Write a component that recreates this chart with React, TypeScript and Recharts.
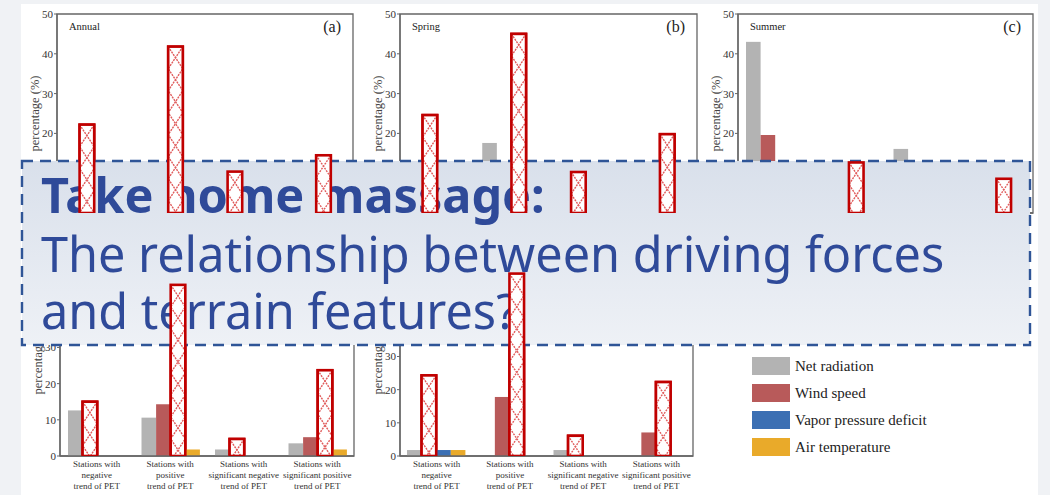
import React from 'react';
import { BarChart, Bar, XAxis, YAxis, ReferenceArea } from 'recharts';

// categories (station groups by PET trend)
const GROUPS = ['neg', 'pos', 'sigNeg', 'sigPos'];
const GROUP_LABELS = [
  ['Stations with', 'negative', 'trend of PET'],
  ['Stations with', 'positive', 'trend of PET'],
  ['Stations with', 'significant negative', 'trend of PET'],
  ['Stations with', 'significant positive', 'trend of PET'],
];

const SERIES = [
  { key: 'rn', name: 'Net radiation', color: '#b3b3b3' },
  { key: 'ws', name: 'Wind speed', color: '#b85a5a' },
  { key: 'vpd', name: 'Vapor pressure deficit', color: '#3b6fb3' },
  { key: 'ta', name: 'Air temperature', color: '#e9aa2a' },
];

// percentage of stations dominated by each driver
const annualRn = [8, 9, 1.5, 3];
const annualWs = [22.2, 6, 10.4, 3];
const annualVpd = [0, 41.8, 0, 14.5];
const annualTa = [0, 1.5, 0, 1];

const springRn = [3, 17.6, 1, 4];
const springWs = [24.6, 8, 10.3, 4];
const springVpd = [2, 45, 0, 19.8];
const springTa = [1.5, 2, 0, 1];

const summerRn = [43, 6, 16.1, 2];
const summerWs = [19.6, 3, 5, 1];
const summerVpd = [4, 12.7, 1, 8.6];
const summerTa = [2, 1, 0.5, 0.5];

const autumnRn = [12.6, 10.6, 1.8, 3.5];
const autumnWs = [15, 14.3, 4.7, 5.2];
const autumnVpd = [0, 47.3, 0, 23.7];
const autumnTa = [0, 1.8, 0, 1.8];

const winterRn = [1.8, 0, 1.8, 0];
const winterWs = [24.3, 17.8, 6.1, 7.1];
const winterVpd = [1.8, 55, 0, 22.3];
const winterTa = [1.8, 0, 0, 0];

const TICKS_50 = [0, 10, 20, 30, 40, 50];
const TICKS_60 = [0, 10, 20, 30, 40, 50, 60];

// bars boxed in red on the slide
const MARKED_ALL = ['neg:ws', 'pos:vpd', 'sigNeg:ws', 'sigPos:vpd'];
const MARKED_SUMMER = ['pos:vpd', 'sigPos:vpd'];

const LEGEND_ITEMS = SERIES.map((s) => s.name);

const SERIF = '"Liberation Serif", "Times New Roman", serif';
const AXIS = '#666';
const Y_AXIS_W = 57;
const PAD_TOP = 6;
const PAD_RIGHT = 6;
const X_AXIS_H = 44;
const PLOT_H = 199;

type Panel = {
  id: string;
  title?: string;
  tag?: string;
  values: number[][];
  marked: string[];
  yMax: number;
  ticks: number[];
  showGroups: boolean;
  plotLeft: number;
  plotTop: number;
  plotW: number;
};

const PANELS: Panel[] = [
  { id: 'a', title: 'Annual', tag: '(a)', values: [annualRn, annualWs, annualVpd, annualTa], marked: MARKED_ALL, yMax: 50, ticks: TICKS_50, showGroups: false, plotLeft: 57, plotTop: 14, plotW: 296 },
  { id: 'b', title: 'Spring', tag: '(b)', values: [springRn, springWs, springVpd, springTa], marked: MARKED_ALL, yMax: 50, ticks: TICKS_50, showGroups: false, plotLeft: 400, plotTop: 14, plotW: 297 },
  { id: 'c', title: 'Summer', tag: '(c)', values: [summerRn, summerWs, summerVpd, summerTa], marked: MARKED_SUMMER, yMax: 50, ticks: TICKS_50, showGroups: false, plotLeft: 738, plotTop: 14, plotW: 295 },
  { id: 'd', values: [autumnRn, autumnWs, autumnVpd, autumnTa], marked: MARKED_ALL, yMax: 55, ticks: TICKS_50, showGroups: true, plotLeft: 60, plotTop: 256.5, plotW: 294 },
  { id: 'e', values: [winterRn, winterWs, winterVpd, winterTa], marked: MARKED_ALL, yMax: 60, ticks: TICKS_60, showGroups: true, plotLeft: 400, plotTop: 257, plotW: 293 },
];

function rowsFor(p: Panel) {
  return GROUPS.map((g, i) => {
    const row: any = { name: g };
    SERIES.forEach((s, j) => {
      row[s.key] = p.values[j][i];
    });
    return row;
  });
}

// zigzag going across the bar and back every `step` px
function zigzag(x: number, y: number, w: number, h: number, fromLeft: boolean, step = 22) {
  const pts: string[] = [];
  const xAt = (t: number) => {
    const ph = (t / step) % 2;
    const f = ph < 1 ? ph : 2 - ph;
    return fromLeft ? x + f * w : x + (1 - f) * w;
  };
  for (let t = 0; t < h; t += step) pts.push(`${xAt(t)},${y + t}`);
  pts.push(`${xAt(h)},${y + h}`);
  return pts.join(' ');
}

function HatchBox({ x, y, width, height }: any) {
  return (
    <g>
      <rect x={x} y={y} width={width} height={height} fill="#fff" />
      <polyline points={zigzag(x, y, width, height, true)} fill="none" stroke="#e05c5c" strokeWidth={1.4} strokeDasharray="2 1" />
      <polyline points={zigzag(x, y, width, height, false)} fill="none" stroke="#e05c5c" strokeWidth={1.4} strokeDasharray="2 1" />
      <rect x={x} y={y} width={width} height={height} fill="none" stroke="#c00000" strokeWidth={2.6} />
    </g>
  );
}

function GroupTick({ x, y, payload }: any) {
  const lines = GROUP_LABELS[GROUPS.indexOf(payload.value)] || [];
  return (
    <text x={x} y={y + 3} textAnchor="middle" fontFamily={SERIF} fontSize={9} fill="#333">
      {lines.map((l, i) => (
        <tspan key={i} x={x} dy={i === 0 ? 0 : 11}>{l}</tspan>
      ))}
    </text>
  );
}

function PanelChart({ p, layer }: { p: Panel; layer: 'base' | 'top' }) {
  const top = layer === 'top';
  const data = rowsFor(p);
  const width = Y_AXIS_W + p.plotW + PAD_RIGHT;
  const height = PAD_TOP + PLOT_H + X_AXIS_H;
  const marked = new Set(p.marked);

  const shapeFor = (key: string, color: string) => (props: any) => {
    const { x, y, width: w, height: h, payload } = props;
    if (!h || h <= 0) return <g />;
    if (marked.has(`${payload.name}:${key}`)) return <HatchBox x={x} y={y} width={w} height={h} />;
    if (top) return <g />;
    return <rect x={x} y={y} width={w} height={h} fill={color} />;
  };

  return (
    <div style={{ position: 'absolute', left: p.plotLeft - Y_AXIS_W, top: p.plotTop - PAD_TOP }}>
      <BarChart
        width={width}
        height={height}
        data={data}
        margin={{ top: PAD_TOP, right: PAD_RIGHT, left: 0, bottom: 0 }}
        barGap={0}
        barSize={14.6}
      >
        <XAxis
          dataKey="name"
          height={X_AXIS_H}
          axisLine={top ? false : { stroke: AXIS, strokeWidth: 1.3 }}
          tickLine={false}
          interval={0}
          tick={top || !p.showGroups ? false : <GroupTick />}
        />
        <YAxis
          width={Y_AXIS_W}
          domain={[0, p.yMax]}
          ticks={p.ticks}
          allowDataOverflow
          axisLine={top ? false : { stroke: AXIS, strokeWidth: 1.3 }}
          tickLine={top ? false : { stroke: AXIS }}
          tickSize={3}
          tickMargin={1}
          tick={top ? false : { fontFamily: SERIF, fontSize: 11, fill: '#333' }}
          label={
            top
              ? undefined
              : {
                  value: 'percentage (%)',
                  angle: -90,
                  position: 'insideLeft',
                  offset: 35,
                  style: { textAnchor: 'middle', fontFamily: SERIF, fontSize: 12.5, fill: '#444' },
                }
          }
        />
        {!top && (
          <ReferenceArea y1={0} y2={p.yMax} fill="none" stroke={AXIS} strokeWidth={1.3} ifOverflow="visible" />
        )}
        {SERIES.map((s) => (
          <Bar
            key={s.key}
            dataKey={s.key}
            name={s.name}
            fill={s.color}
            isAnimationActive={false}
            shape={shapeFor(s.key, s.color)}
          />
        ))}
      </BarChart>
      {!top && p.title && (
        <div style={{ position: 'absolute', left: Y_AXIS_W + 12, top: PAD_TOP + 7, font: `10.5px ${SERIF}`, color: '#222' }}>
          {p.title}
        </div>
      )}
      {!top && p.tag && (
        <div style={{ position: 'absolute', right: PAD_RIGHT + 12, top: PAD_TOP + 4, font: `16px ${SERIF}`, color: '#222' }}>
          {p.tag}
        </div>
      )}
    </div>
  );
}

function DriverLegend() {
  return (
    <div style={{ position: 'absolute', left: 752, top: 357 }}>
      {LEGEND_ITEMS.map((name, i) => (
        <div key={name} style={{ display: 'flex', alignItems: 'center', height: 27 }}>
          <div style={{ width: 38, height: 18, background: SERIES[i].color, marginTop: -9 }} />
          <span style={{ marginLeft: 5, marginTop: -9, font: `15px ${SERIF}`, color: '#222' }}>{name}</span>
        </div>
      ))}
    </div>
  );
}

function TakeHomeBox() {
  const blue = '#2f4a99';
  return (
    <svg width={1050} height={495} style={{ position: 'absolute', left: 0, top: 0 }}>
      <defs>
        <linearGradient id="boxFill" x1="0" y1="0" x2="0" y2="1">
          <stop offset="0" stopColor="#d9e0eb" />
          <stop offset="1" stopColor="#eef1f6" />
        </linearGradient>
      </defs>
      <rect x={22} y={161} width={1008} height={184} fill="url(#boxFill)" stroke="#2f5597" strokeWidth={2.4} strokeDasharray="11 7" />
      <g fontFamily='"Noto Sans", "Open Sans", sans-serif' fill={blue} fontSize={48.6}>
        <text x={41} y={213} fontWeight="bold">Take home massage:</text>
        <text x={41} y={272}>The relationship between driving forces</text>
        <text x={41} y={329}>and terrain features?</text>
      </g>
    </svg>
  );
}

export default function App() {
  return (
    <div style={{ position: 'absolute', left: 0, top: 0, width: 1050, height: 495, background: '#f0f2f5', overflow: 'hidden' }}>
      <div style={{ position: 'absolute', left: 21, top: 4, width: 1017, height: 491, background: '#fff' }} />
      {PANELS.map((p) => (
        <PanelChart key={`base-${p.id}`} p={p} layer="base" />
      ))}
      <DriverLegend />
      <TakeHomeBox />
      {PANELS.map((p) => (
        <PanelChart key={`top-${p.id}`} p={p} layer="top" />
      ))}
    </div>
  );
}
